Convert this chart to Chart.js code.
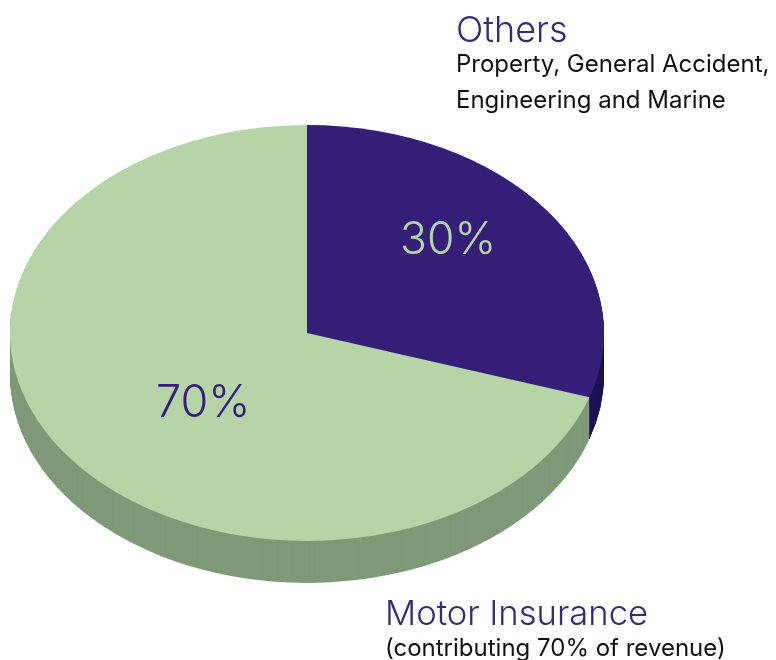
<!DOCTYPE html>
<html>
<head>
<meta charset="utf-8">
<style>
html, body { margin: 0; padding: 0; background: #fff; }
#wrap { position: relative; width: 776px; height: 660px; overflow: hidden; }
</style>
<script src="https://cdn.jsdelivr.net/npm/chart.js@4"></script>
</head>
<body>
<div id="wrap"><canvas id="pieChart" width="776" height="660"></canvas></div>
<script>
const categories = ['Others', 'Motor Insurance'];
const shares = [30, 70];
const topColors = ['#351e78', '#b5d4a8'];
const sideColors = ['#1c1254', '#7f9a78'];
const percentLabels = ['30%', '70%'];
const percentColors = ['#b5d4a8', '#351e78'];

// tilt of the pie and thickness of the rim
const squash = 0.7;
const depth = 42;
const centerY = 333;

const tilted = (ctx, fn) => {
    ctx.save();
    ctx.translate(0, centerY);
    ctx.scale(1, squash);
    ctx.translate(0, -centerY);
    fn();
    ctx.restore();
};

const pie3d = {
    id: 'pie3d',
    beforeDatasetDraw(chart) {
        const ctx = chart.ctx;
        const arcs = chart.getDatasetMeta(0).data;
        // rim: the same slices stacked downwards in the darker colours
        for (let d = depth; d > 0; d--) {
            ctx.save();
            ctx.translate(0, d);
            tilted(ctx, () => {
                arcs.forEach((arc, i) => {
                    ctx.beginPath();
                    ctx.moveTo(arc.x, arc.y);
                    ctx.arc(arc.x, arc.y, arc.outerRadius, arc.startAngle, arc.endAngle);
                    ctx.closePath();
                    ctx.fillStyle = sideColors[i];
                    ctx.fill();
                });
            });
            ctx.restore();
        }
        ctx.save();
        ctx.translate(0, centerY);
        ctx.scale(1, squash);
        ctx.translate(0, -centerY);
    },
    afterDatasetDraw(chart) {
        chart.ctx.restore();
    },
    afterDraw(chart) {
        const ctx = chart.ctx;
        const text = (str, x, y, font, color) => {
            ctx.font = font;
            ctx.fillStyle = color;
            ctx.fillText(str, x, y);
        };
        ctx.save();
        ctx.textBaseline = 'alphabetic';
        text(percentLabels[0], 400, 254, '300 44.5px Inter, sans-serif', percentColors[0]);
        text(percentLabels[1], 156, 417, '300 45px Inter, sans-serif', percentColors[1]);
        text(categories[0], 456, 42, '300 36px Inter, sans-serif', '#352a78');
        text('Property, General Accident,', 456, 72, '400 24px Inter, sans-serif', '#111');
        text('Engineering and Marine', 456, 108, '400 24px Inter, sans-serif', '#111');
        text(categories[1], 385, 625, '300 34.6px Inter, sans-serif', '#352a78');
        text('(contributing 70% of revenue)', 385, 656, '400 24px Inter, sans-serif', '#111');
        ctx.restore();
    },
};

new Chart(document.getElementById('pieChart'), {
    type: 'pie',
    data: {
        labels: categories,
        datasets: [
            {
                data: shares,
                backgroundColor: topColors,
                borderWidth: 0,
            },
        ],
    },
    options: {
        responsive: false,
        animation: false,
        layout: { padding: { left: 10, right: 172, top: 36, bottom: 30 } },
        plugins: {
            legend: { display: false },
            tooltip: { enabled: false },
        },
    },
    plugins: [pie3d],
});
</script>
</body>
</html>
